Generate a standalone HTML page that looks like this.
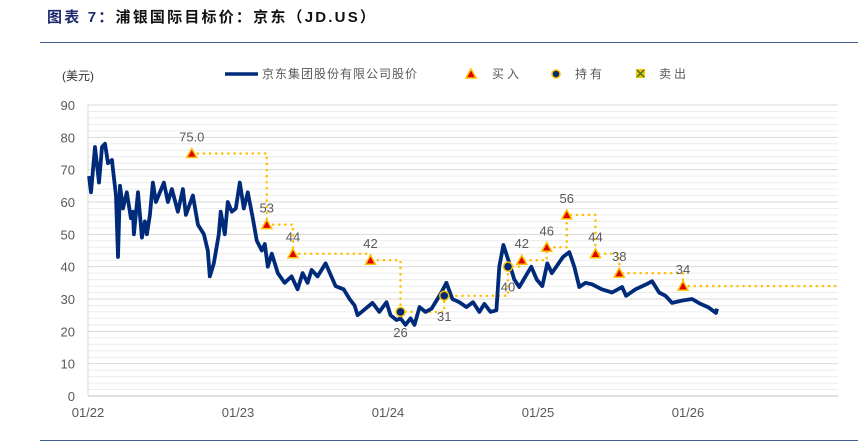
<!DOCTYPE html>
<html><head><meta charset="utf-8">
<style>
body{margin:0;background:#fff;width:858px;height:445px;overflow:hidden;font-family:"Liberation Sans","Noto Sans CJK SC",sans-serif;}
#title{position:absolute;left:47px;top:6px;font-size:15px;font-weight:bold;color:#111;letter-spacing:2.2px;}
#title span{color:#1f2a6e;}
#rule{position:absolute;left:40px;top:42px;width:818px;height:1px;background:#3f5a8a;}
#rule2{position:absolute;left:40px;top:440px;width:818px;height:1px;background:#3f5a8a;}
svg{position:absolute;left:0;top:0;}
text{font-family:"Liberation Sans","Noto Sans CJK SC",sans-serif;}
</style></head><body>
<div id="title"><span>图表 7：</span>浦银国际目标价：京东（JD.US）</div>
<div id="rule"></div>
<div id="rule2"></div>
<svg id="c" width="858" height="445"></svg>
<script>
const priceMonths=[0.08,0.24,0.56,0.88,1.12,1.36,1.6,1.92,2.0,2.24,2.4,2.56,2.8,3.1,3.43,3.6,3.67,4.0,4.31,4.55,4.71,4.95,5.19,5.43,6.07,6.39,6.71,7.19,7.59,7.83,8.39,8.79,9.27,9.58,9.74,10.06,10.46,10.62,10.94,11.18,11.5,11.82,12.14,12.46,12.78,13.18,13.5,13.9,14.14,14.38,14.7,15.18,15.73,16.29,16.77,17.17,17.57,17.89,18.37,19.01,19.81,20.45,20.93,21.33,21.57,22.2,22.76,23.3,23.88,24.2,24.68,25.0,25.4,25.8,26.12,26.52,27.0,27.48,28.27,28.67,29.15,29.7,30.27,30.8,31.31,31.71,32.2,32.67,32.9,33.23,33.71,34.1,34.5,35.0,35.46,35.9,36.34,36.74,37.1,37.46,38.0,38.5,38.9,39.3,39.8,40.34,41.1,41.93,42.73,43.05,43.8,44.65,45.13,45.69,46.2,46.73,47.5,48.32,49.0,49.6,50.24,50.32];
const priceValues=[68,63,77,66,77,78,72,73,70,62,43,65,58,63,55,57,50,63,49,54,50,56,66,60,66,60,64,57,64,56,62,53,50,45,37,41,50,57,50,60,57,58,66,58,63,55,48,45,47,40,44,38,35,37,33,38,35,39,37,41,34,33,30,28,25,27,28.8,26,29,25,23.5,24,22,24,22,27.5,26,27,32,35,30,29,27.5,29,26,28.5,26,26.5,40,46.7,41,36,33.7,37,40,36,34,41,38,40,43,44.5,40,33.7,35,34.5,33,32,33.7,31,33,34.5,35.5,32,31,28.8,29.5,30,28.5,27.5,25.7,27];
const markerMonths=[8.3,14.3,16.4,22.6,25.0,28.5,33.6,34.7,36.7,38.3,40.6,42.5,47.6];
const markerValues=[75,53,44,42,26,31,40,42,46,56,44,38,34];
const markerTypes=["buy","buy","buy","buy","hold","hold","hold","buy","buy","buy","buy","buy","buy"];
const markerLabels=["75.0","53","44","42","26","31","40","42","46","56","44","38","34"];
const yTicks=[0,10,20,30,40,50,60,70,80,90];
const xTickLabels=["01/22","01/23","01/24","01/25","01/26"];
const xTickMonths=[0,12,24,36,48];

const X0=88,X1=838,MMAX=60,Y0=396,Y1=105,VMAX=90;
const sx=m=>X0+(X1-X0)*m/MMAX;
const sy=v=>Y0-(Y0-Y1)*v/VMAX;
const svg=document.getElementById('c');
const NS='http://www.w3.org/2000/svg';
function mk(tag,attrs,parent){const e=document.createElementNS(NS,tag);for(const k in attrs)e.setAttribute(k,attrs[k]);(parent||svg).appendChild(e);return e;}

for(let v=2;v<=VMAX;v+=2){
  const g=mk('line',{x1:X0,x2:X1,y1:sy(v),y2:sy(v),stroke:v%10===0?'#d9d9d9':'#ececec','stroke-width':1});
  
  
}
const ax=mk('line',{x1:X0,x2:X1,y1:Y0,y2:Y0,stroke:'#bfbfbf','stroke-width':1});


const ay=mk('line',{x1:X0,x2:X0,y1:Y1,y2:Y0,stroke:'#d9d9d9','stroke-width':1});



yTicks.forEach(v=>{
  const t=mk('text',{x:75,y:sy(v)+5,'text-anchor':'end','font-size':13,fill:'#595959'});
  t.textContent=v;
  
  
});
xTickLabels.forEach((l,i)=>{
  const t=mk('text',{x:sx(xTickMonths[i]),y:417,'text-anchor':'middle','font-size':13,fill:'#595959'});
  t.textContent=l;
  
  
});
const yt=mk('text',{x:62,y:80,'font-size':12,fill:'#333'});
yt.textContent='(美元)';



let d='';
markerMonths.forEach((m,i)=>{
  const x=sx(m),y=sy(markerValues[i]);
  d+=(i===0?'M':'L')+x+','+y;
  const nx=i<markerMonths.length-1?sx(markerMonths[i+1]):X1;
  d+='L'+nx+','+y;
});
const st=mk('path',{d:d,fill:'none',stroke:'#ffc000','stroke-width':2.5,'stroke-dasharray':'0.1 6','stroke-linecap':'round'});



const pd=priceMonths.map((m,i)=>(i?'L':'M')+sx(m).toFixed(1)+','+sy(priceValues[i]).toFixed(1)).join('');
const pl=mk('path',{d:pd,fill:'none',stroke:'#002a7a','stroke-width':3.8,'stroke-linejoin':'round'});



markerMonths.forEach((m,i)=>{
  const x=sx(m),y=sy(markerValues[i]);
  let e;
  if(markerTypes[i]==='buy'){
    e=mk('polygon',{points:`${x},${y-5} ${x-5},${y+4} ${x+5},${y+4}`,fill:'#e00000',stroke:'#ffc000','stroke-width':1.5});
    
  }else{
    e=mk('circle',{cx:x,cy:y,r:4.5,fill:'#002a7a',stroke:'#ffc000','stroke-width':1.5});
    
  }
  
  const below=markerTypes[i]==='hold';
  const t=mk('text',{x:x,y:below?y+25:y-12,'text-anchor':'middle','font-size':13,fill:'#595959'});
  t.textContent=markerLabels[i];
  
  
});

const lg=mk('g',{});


mk('line',{x1:225,x2:258,y1:74,y2:74,stroke:'#002a7a','stroke-width':3.5},lg);
const l1=mk('text',{x:262,y:78,'font-size':12,fill:'#595959','letter-spacing':'1'},lg);l1.textContent='京东集团股份有限公司股价';


mk('polygon',{points:'471,69 466,78 476,78',fill:'#e00000',stroke:'#ffc000','stroke-width':1.5},lg);
const l2=mk('text',{x:492,y:78,'font-size':12,fill:'#595959','letter-spacing':'3'},lg);l2.textContent='买入';


mk('circle',{cx:556,cy:74,r:4,fill:'#002a7a',stroke:'#ffc000','stroke-width':1.5},lg);
const l3=mk('text',{x:575,y:78,'font-size':12,fill:'#595959','letter-spacing':'3'},lg);l3.textContent='持有';


mk('rect',{x:636,y:69,width:9,height:9,fill:'#ffc000'},lg);
mk('path',{d:'M637,70L644,77M644,70L637,77',stroke:'#2e7d32','stroke-width':1.5},lg);
const l4=mk('text',{x:659,y:78,'font-size':12,fill:'#595959','letter-spacing':'3'},lg);l4.textContent='卖出';


</script>
</body></html>
